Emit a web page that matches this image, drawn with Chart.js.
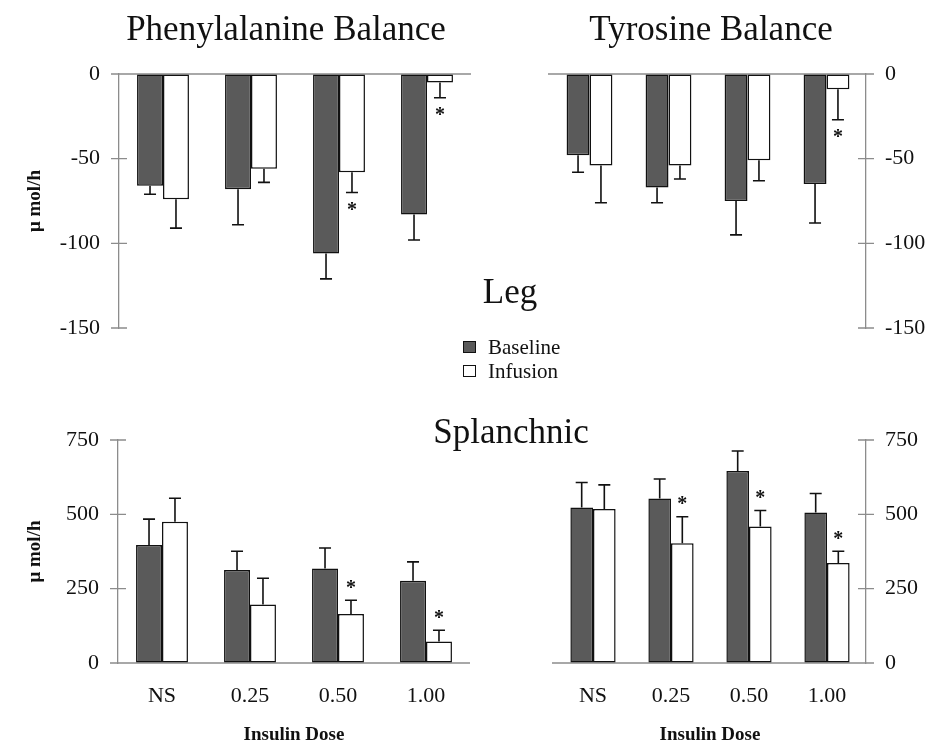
<!DOCTYPE html>
<html>
<head>
<meta charset="utf-8">
<script src="https://cdn.jsdelivr.net/npm/chart.js@4.4.0/dist/chart.umd.min.js"></script>
<style>
  html, body { margin: 0; padding: 0; background: #fff; }
  #wrap { position: relative; width: 929px; height: 746px; font-family: "Liberation Serif", "Times New Roman", serif; color: #111; }
  canvas { position: absolute; }
  .txt { position: absolute; white-space: nowrap; line-height: 1; transform: translateX(-50%); }
  .big { font-size: 35px; }
  .leg { position: absolute; left: 463px; font-size: 21px; line-height: 1; white-space: nowrap; }
  .box { display: inline-block; width: 11px; height: 10px; border: 1.5px solid #111; margin-right: 12px; vertical-align: 1px; }
</style>
</head>
<body>
<div id="wrap">
  <canvas id="pheLeg" width="480" height="372" style="left:0;top:0"></canvas>
  <canvas id="tyrLeg" width="449" height="372" style="left:480px;top:0"></canvas>
  <canvas id="pheSpl" width="480" height="366" style="left:0;top:380px"></canvas>
  <canvas id="tyrSpl" width="449" height="366" style="left:480px;top:380px"></canvas>

  <div class="txt big" style="left:286px;top:11px">Phenylalanine Balance</div>
  <div class="txt big" style="left:711px;top:11px">Tyrosine Balance</div>
  <div class="txt big" style="left:510px;top:274px">Leg</div>
  <div class="txt big" style="left:511px;top:414px">Splanchnic</div>
  <div class="leg" style="top:337px"><span class="box" style="background:#5a5a5a"></span>Baseline</div>
  <div class="leg" style="top:361px"><span class="box" style="background:#fff"></span>Infusion</div>
</div>
<script>
// Kategori dosis insulin
const doses = ['NS', '0.25', '0.50', '1.00'];

// Skala sumbu y
const legTicks = [-150, -100, -50, 0];
const splTicks = [0, 250, 500, 750];

// Leg - Phenylalanine
const pheLegBaseline = [-66, -68, -106, -83];
const pheLegBaselineErr = [5, 21, 15, 15];
const pheLegInfusion = [-74, -56, -58, -5];
const pheLegInfusionErr = [17, 8, 12, 9];
const pheLegStars = [false, false, true, true];

// Leg - Tyrosine
const tyrLegBaseline = [-48, -67, -75, -65];
const tyrLegBaselineErr = [10, 9, 20, 23];
const tyrLegInfusion = [-54, -54, -51, -9];
const tyrLegInfusionErr = [22, 8, 12, 18];
const tyrLegStars = [false, false, false, true];

// Splanchnic - Phenylalanine
const pheSplBaseline = [397, 313, 318, 277];
const pheSplBaselineErr = [87, 63, 69, 63];
const pheSplInfusion = [475, 197, 165, 72];
const pheSplInfusionErr = [79, 88, 46, 38];
const pheSplStars = [false, false, true, true];

// Splanchnic - Tyrosine
const tyrSplBaseline = [523, 553, 646, 506];
const tyrSplBaselineErr = [84, 66, 67, 64];
const tyrSplInfusion = [518, 403, 459, 336];
const tyrSplInfusionErr = [81, 89, 54, 40];
const tyrSplStars = [false, true, true, true];

const darkFill = '#5a5a5a';
const axisColor = '#8c8c8c';
const serif = '"Liberation Serif", "Times New Roman", serif';

// garis nol + tanda tick yang menyilang sumbu
const axisMarks = {
    id: 'axisMarks',
    beforeDatasetsDraw(chart) {
        const ctx = chart.ctx, ys = chart.scales.y, a = chart.chartArea;
        const onLeft = ys.position === 'left';
        const ax = onLeft ? a.left : a.right;
        ctx.save();
        ctx.strokeStyle = axisColor;
        ctx.lineWidth = 1.3;
        ctx.beginPath();
        ys.ticks.forEach(t => {
            const p = ys.getPixelForValue(t.value);
            ctx.moveTo(ax - 8, p);
            ctx.lineTo(ax + 8, p);
        });
        const z = ys.getPixelForValue(0);
        ctx.moveTo(onLeft ? a.left - 8 : a.left - 2, z);
        ctx.lineTo(onLeft ? a.right : a.right + 8, z);
        ctx.stroke();
        ctx.restore();
    }
};

// error bar satu sisi + tanda bintang
const errorBars = {
    id: 'errorBars',
    afterDatasetsDraw(chart) {
        const ctx = chart.ctx, ys = chart.scales.y;
        chart.data.datasets.forEach((ds, i) => {
            chart.getDatasetMeta(i).data.forEach((bar, j) => {
                const v = ds.data[j], e = ds.errors[j];
                const end = v < 0 ? v - e : v + e;
                const y1 = ys.getPixelForValue(v), y2 = ys.getPixelForValue(end);
                ctx.save();
                ctx.strokeStyle = '#111';
                ctx.lineWidth = 1.6;
                ctx.beginPath();
                ctx.moveTo(bar.x, y1);
                ctx.lineTo(bar.x, y2);
                ctx.moveTo(bar.x - 6, y2);
                ctx.lineTo(bar.x + 6, y2);
                ctx.stroke();
                if (ds.stars && ds.stars[j]) {
                    ctx.fillStyle = '#111';
                    ctx.font = 'bold 20px ' + serif;
                    ctx.textAlign = 'center';
                    ctx.textBaseline = 'alphabetic';
                    const c = v < 0 ? y2 + 14 : y2 - 16;
                    ctx.fillText('*', bar.x, c + 9.6);
                }
                ctx.restore();
            });
        });
    }
};

function makeChart(id, cfg) {
    const ticks = cfg.ticks;
    return new Chart(document.getElementById(id), {
        type: 'bar',
        data: {
            labels: doses,
            datasets: [{
                label: 'Baseline',
                data: cfg.base,
                errors: cfg.baseErr,
                backgroundColor: darkFill,
                borderColor: '#111',
                borderWidth: 1.5,
                borderSkipped: false
            }, {
                label: 'Infusion',
                data: cfg.inf,
                errors: cfg.infErr,
                stars: cfg.stars,
                backgroundColor: '#fff',
                borderColor: '#111',
                borderWidth: 1.5,
                borderSkipped: false
            }]
        },
        options: {
            responsive: false,
            animation: false,
            devicePixelRatio: 1,
            layout: { padding: cfg.padding },
            datasets: { bar: { categoryPercentage: cfg.catPct, barPercentage: 1 } },
            plugins: { legend: { display: false }, tooltip: { enabled: false } },
            scales: {
                x: {
                    display: cfg.showX,
                    grid: { display: false },
                    border: { display: false },
                    ticks: { color: '#111', font: { family: serif, size: 22 }, padding: 12 },
                    title: {
                        display: true,
                        text: 'Insulin Dose',
                        color: '#111',
                        font: { family: serif, size: 19, weight: 'bold' },
                        padding: 0
                    },
                    afterFit: s => { if (cfg.showX) s.height = 83; }
                },
                y: {
                    position: cfg.yPos,
                    min: ticks[0],
                    max: ticks[ticks.length - 1],
                    ticks: { stepSize: ticks[1] - ticks[0], padding: 19, color: '#111', font: { family: serif, size: 22 } },
                    grid: { drawOnChartArea: false, drawTicks: false },
                    border: { display: true, color: axisColor, width: 1.3 },
                    title: {
                        display: cfg.yPos === 'left',
                        text: 'μ mol/h',
                        color: '#111',
                        font: { family: serif, size: 19, weight: 'bold' },
                        padding: { top: 24, bottom: 0 }
                    },
                    afterFit: s => { s.width = cfg.yWidth; }
                }
            }
        },
        plugins: [axisMarks, errorBars]
    });
}

makeChart('pheLeg', {
    base: pheLegBaseline, baseErr: pheLegBaselineErr,
    inf: pheLegInfusion, infErr: pheLegInfusionErr, stars: pheLegStars,
    ticks: legTicks, yPos: 'left', yWidth: 119, showX: false, catPct: 0.59,
    padding: { top: 74, bottom: 44, left: 0, right: 9 }
});

makeChart('tyrLeg', {
    base: tyrLegBaseline, baseErr: tyrLegBaselineErr,
    inf: tyrLegInfusion, infErr: tyrLegInfusionErr, stars: tyrLegStars,
    ticks: legTicks, yPos: 'right', yWidth: 63, showX: false, catPct: 0.58,
    padding: { top: 74, bottom: 44, left: 70, right: 0 }
});

makeChart('pheSpl', {
    base: pheSplBaseline, baseErr: pheSplBaselineErr,
    inf: pheSplInfusion, infErr: pheSplInfusionErr, stars: pheSplStars,
    ticks: splTicks, yPos: 'left', yWidth: 118, showX: true, catPct: 0.59,
    padding: { top: 60, bottom: 0, left: 0, right: 10 }
});

makeChart('tyrSpl', {
    base: tyrSplBaseline, baseErr: tyrSplBaselineErr,
    inf: tyrSplInfusion, infErr: tyrSplInfusionErr, stars: tyrSplStars,
    ticks: splTicks, yPos: 'right', yWidth: 63, showX: true, catPct: 0.58,
    padding: { top: 60, bottom: 0, left: 74, right: 0 }
});
</script>
</body>
</html>
